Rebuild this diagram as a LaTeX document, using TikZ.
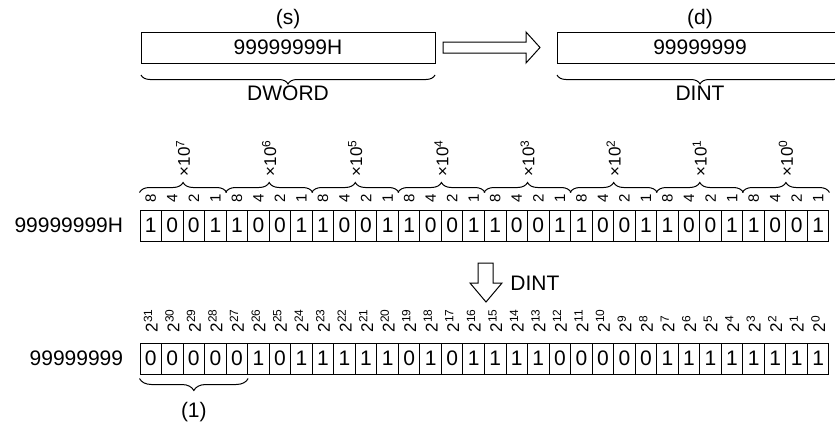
\documentclass[tikz,border=0pt]{standalone}
\usepackage{fontspec}
\setmainfont{Liberation Sans}
\usetikzlibrary{positioning, calc, decorations.pathreplacing}

\begin{document}
\begin{tikzpicture}[
    x=0.5pt, y=-0.5pt,
    font=\fontsize{10.5}{12}\selectfont,
    valbox/.style={rectangle, draw, line width=0.5pt, minimum height=15.5pt, inner sep=0pt},
    bitcell/.style={rectangle, draw, line width=0.5pt, minimum width=10.77pt, minimum height=15.5pt, inner sep=0pt},
    wlabel/.style={font=\fontsize{7.5}{8}\selectfont, inner sep=1pt, rotate=90},
    declabel/.style={font=\fontsize{8.5}{9}\selectfont, inner sep=1pt, rotate=90, anchor=west},
    powlabel/.style={font=\fontsize{8.5}{9}\selectfont, inner sep=1pt, rotate=90, anchor=west},
    brc/.style={decorate, decoration={brace, amplitude=#1}, line width=0.5pt},
    blockarrow/.style={draw, line width=0.5pt, fill=white}
]
\useasboundingbox (0,0) rectangle (835,423);

% source and destination
\node[valbox, minimum width=147pt] (src) at (288,47.5) {99999999H};
\node (srclbl) at (288,19) {(s)};
\draw[brc=4.5pt] (435,75) -- (141,75);
\node (srctype) at (288,93) {DWORD};

\node[valbox, minimum width=143pt] (dst) at (700,47.5) {99999999};
\node (dstlbl) at (700,19) {(d)};
\draw[brc=4.5pt] (843,75) -- (557,75);
\node (dsttype) at (700,93) {DINT};

\draw[blockarrow] (443,42) -- (526,42) -- (526,32) -- (540,47.5) -- (526,63) -- (526,53) -- (443,53) -- cycle;

% BCD row
\foreach \b [count=\i from 0] in {1,0,0,1,1,0,0,1,1,0,0,1,1,0,0,1,1,0,0,1,1,0,0,1,1,0,0,1,1,0,0,1}
    \node[bitcell] (h\i) at ({150.77+21.53*\i},225.5) {\b};
\foreach \w [count=\i from 0] in {8,4,2,1,8,4,2,1,8,4,2,1,8,4,2,1,8,4,2,1,8,4,2,1,8,4,2,1,8,4,2,1}
    \node[wlabel] at ($(h\i.north)+(0,-11)$) {\w};
\foreach \g in {0,...,7} {
    \pgfmathtruncatemacro\first{4*\g}
    \pgfmathtruncatemacro\last{4*\g+3}
    \pgfmathtruncatemacro\ex{7-\g}
    \draw[brc=5pt] ($(h\first.north west)+(0,-17)$) -- ($(h\last.north east)+(0,-17)$);
    \node[declabel] (dec\g) at ($(h\first.north west)!0.5!(h\last.north east)+(0,-31)$) {×10\textsuperscript{\ex}};
}
\node[left=8pt of h0, inner sep=0pt] (hexval) {99999999H};

% conversion
\draw[blockarrow] (478,263) -- (493,263) -- (493,283) -- (502,283) -- (486,302) -- (470,283) -- (478,283) -- cycle;
\node[anchor=west, inner sep=0pt] (cvt) at (510,283) {DINT};

% binary row
\foreach \b [count=\i from 0] in {0,0,0,0,0,1,0,1,1,1,1,1,0,1,0,1,1,1,1,0,0,0,0,0,1,1,1,1,1,1,1,1}
    \node[bitcell] (d\i) at ({150.77+21.53*\i},358.5) {\b};
\foreach \i in {0,...,31} {
    \pgfmathtruncatemacro\ex{31-\i}
    \node[powlabel] at ($(d\i.north)+(0,-8)$) {2\textsuperscript{\ex}};
}
\node[left=8pt of d0, inner sep=0pt] (decval) {99999999};
\draw[brc=6pt] ($(d4.south east)+(0,4)$) -- ($(d0.south west)+(0,4)$);
\node (grp) at ($(d0.south west)!0.5!(d4.south east)+(0,38)$) {(1)};
\end{tikzpicture}
\end{document}
